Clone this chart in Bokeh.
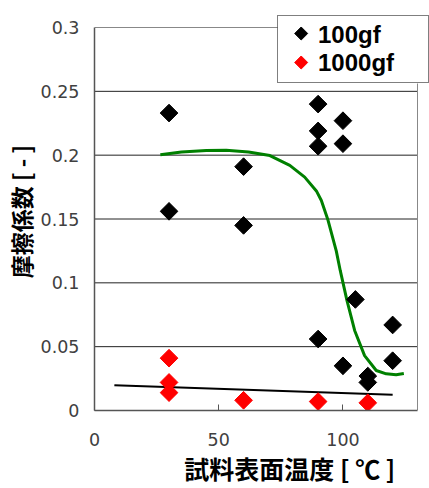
import numpy as np
from bokeh.plotting import figure
from bokeh.models import Range1d, FixedTicker, Legend, LegendItem
from bokeh.embed import file_html
from bokeh.resources import INLINE

# ---- data ----
temp_100gf = [30, 30, 60, 60, 90, 90, 90, 90, 100, 100, 100, 105, 110, 110, 120, 120]
mu_100gf = [0.233, 0.156, 0.191, 0.145, 0.240, 0.219, 0.207, 0.056,
            0.227, 0.209, 0.035, 0.087, 0.027, 0.022, 0.067, 0.039]

temp_1000gf = [30, 30, 30, 60, 90, 110]
mu_1000gf = [0.041, 0.022, 0.014, 0.008, 0.007, 0.006]

fit_100gf_x = [26.5, 35, 45, 53, 62, 70.6, 78.6, 84.6, 89.3, 91.3, 94.0, 97.3,
               98.9, 101.6, 104.7, 108.7, 113.4, 117.4, 121.4, 124.5]
fit_100gf_y = [0.2003, 0.2025, 0.2036, 0.2038, 0.2024, 0.1997, 0.1920, 0.1828,
               0.1720, 0.1645, 0.1490, 0.1250, 0.1097, 0.0862, 0.0627, 0.0430,
               0.0313, 0.0287, 0.0280, 0.0290]

fit_1000gf_x = [8, 120]
fit_1000gf_y = [0.0198, 0.0123]

x_axis_min, x_axis_max = 0, 130
y_axis_min, y_axis_max = 0, 0.3
x_ticks = [0, 50, 100]
y_ticks = [0, 0.05, 0.1, 0.15, 0.2, 0.25, 0.3]
y_tick_labels = ["0", "0.05", "0.1", "0.15", "0.2", "0.25", "0.3"]

series_labels = ["100gf", "1000gf"]
series_colors = ["black", "red"]
x_title = "試料表面温度 [ ℃ ]"
y_title = "摩擦係数 [ - ]"

# ---- layout constants (screen pixels) ----
FIG_W, FIG_H = 429, 488
B_LEFT, B_RIGHT, B_TOP, B_BOTTOM = 94, 0, 12, 78
PLOT_W, PLOT_H = 323, 383                 # visible plot-area box
FRAME_W = FIG_W - B_LEFT - B_RIGHT
FRAME_H = FIG_H - B_TOP - B_BOTTOM
LEG_LEFT, LEG_BOTTOM = 183, 327           # legend box, relative to plot origin
LEG_SYM_DX = 23.7
LEG_ROW_DY = [50, 21]

sx_per_px = (x_axis_max - x_axis_min) / PLOT_W
sy_per_px = (y_axis_max - y_axis_min) / PLOT_H

p = figure(width=FIG_W, height=FIG_H,
           x_range=Range1d(x_axis_min, x_axis_min + FRAME_W * sx_per_px),
           y_range=Range1d(y_axis_min, y_axis_min + FRAME_H * sy_per_px),
           output_backend="svg", toolbar_location=None,
           min_border_left=B_LEFT, min_border_right=B_RIGHT,
           min_border_top=B_TOP, min_border_bottom=B_BOTTOM)

p.outline_line_color = None
p.background_fill_color = "white"
p.border_fill_color = "white"
p.xgrid.visible = False
p.ygrid.visible = False

tick_font = "DejaVu Sans"
legend_font = "Liberation Sans"
cjk_font = "Noto Sans CJK JP"

p.xaxis.bounds = (x_axis_min, x_axis_max)
p.xaxis.ticker = FixedTicker(ticks=x_ticks)
p.xaxis.major_tick_in = 6
p.xaxis.major_tick_out = 0
p.xaxis.minor_tick_line_color = None
p.xaxis.major_label_standoff = 22
p.xaxis.axis_line_color = "#555555"
p.xaxis.axis_line_width = 1.5
p.xaxis.major_tick_line_color = "#555555"

p.yaxis.bounds = (y_axis_min, y_axis_max)
p.yaxis.ticker = FixedTicker(ticks=y_ticks)
p.yaxis.major_label_overrides = {t: l for t, l in zip(y_ticks, y_tick_labels)}
p.yaxis.major_tick_in = 0
p.yaxis.major_tick_out = 0
p.yaxis.minor_tick_line_color = None
p.yaxis.major_label_standoff = 15
p.yaxis.axis_line_color = "#555555"
p.yaxis.axis_line_width = 1.5

for ax in (p.xaxis, p.yaxis):
    ax.major_label_text_font = tick_font
    ax.major_label_text_font_size = "17.5px"
    ax.major_label_text_color = "#404040"
    ax.axis_label_text_font = cjk_font
    ax.axis_label_text_font_style = "bold"
    ax.axis_label_text_color = "black"

p.yaxis.axis_label = y_title
p.yaxis.axis_label_text_font_size = "23px"
p.yaxis.axis_label_standoff = 0

# x title sits right of centre in the reference: pad with ideographic spaces
p.xaxis.axis_label = "\u3000 \u3000" + x_title
p.xaxis.axis_label_text_font_size = "25px"
p.xaxis.axis_label_standoff = 1

# ---- plot-area box lines and grid ----
leg_left_data = x_axis_min + LEG_LEFT * sx_per_px
leg_bottom_data = y_axis_min + LEG_BOTTOM * sy_per_px
grid_vals = [t for t in y_ticks if y_axis_min < t < y_axis_max]
p.segment(x0=[x_axis_min] * len(grid_vals), y0=grid_vals,
          x1=[x_axis_max] * len(grid_vals), y1=grid_vals,
          line_color="#222222", line_width=1)
p.segment(x0=[x_axis_min, x_axis_max], y0=[y_axis_max, y_axis_min],
          x1=[leg_left_data, x_axis_max], y1=[y_axis_max, leg_bottom_data],
          line_color="#888888", line_width=1)

# ---- data glyphs ----
p.line(fit_100gf_x, fit_100gf_y, line_color="#008000", line_width=3)
p.line(fit_1000gf_x, fit_1000gf_y, line_color="black", line_width=2)

p.scatter(temp_100gf, mu_100gf, marker="square", size=12.5,
          angle=np.pi / 4, fill_color=series_colors[0], line_color=series_colors[0])
p.scatter(temp_1000gf, mu_1000gf, marker="square", size=12.5,
          angle=np.pi / 4, fill_color=series_colors[1], line_color=series_colors[1])

# ---- legend ----
dummy = [p.scatter([], [], marker="square", fill_alpha=0, line_alpha=0)
         for _ in series_labels]
legend = Legend(items=[LegendItem(label=lab, renderers=[r])
                       for lab, r in zip(series_labels, dummy)],
                location=(LEG_LEFT, LEG_BOTTOM), orientation="vertical",
                label_text_font=legend_font, label_text_font_style="bold",
                label_text_font_size="24px", label_text_color="black",
                glyph_width=30, glyph_height=24, padding=5, spacing=0,
                label_standoff=5, label_width=105, margin=0,
                border_line_color="black", border_line_width=1.5,
                background_fill_alpha=0)
p.add_layout(legend)

sym_x = [x_axis_min + (LEG_LEFT + LEG_SYM_DX) * sx_per_px] * len(series_labels)
sym_y = [y_axis_min + (LEG_BOTTOM + dy) * sy_per_px for dy in LEG_ROW_DY]
p.scatter(sym_x, sym_y, marker="square", size=9.2, angle=np.pi / 4,
          fill_color=series_colors, line_color=series_colors)

open("out.html", "w").write(file_html(p, INLINE))
